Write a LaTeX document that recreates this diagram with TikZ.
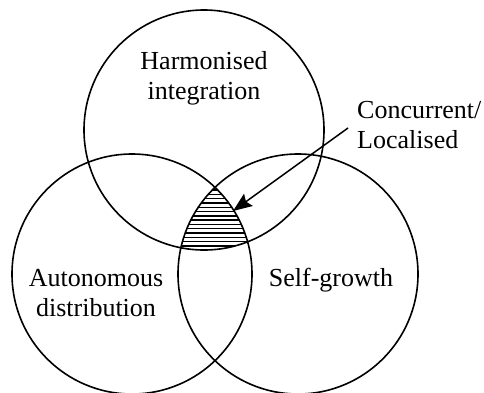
\documentclass[tikz,border=0pt]{standalone}
\usepackage{fontspec}
\setmainfont{Liberation Serif}
\usetikzlibrary{arrows.meta}
\tikzset{
  ring/.style={draw=black, line width=1.6pt},
  hatchline/.style={draw=black, line width=1.4pt},
  lbl/.style={font=\fontsize{26}{30}\selectfont, inner sep=0pt, align=center},
  pointer/.style={draw=black, line width=1.5pt, -{Stealth[length=19pt,width=15pt,inset=3pt]}}
}
\begin{document}
\begin{tikzpicture}[x=1pt,y=-1pt]
\useasboundingbox (0,0) rectangle (484,392);
\coordinate (ct) at (204,130);
\coordinate (cl) at (132,274);
\coordinate (cr) at (298,274);
% hatched triple intersection
\begin{scope}
  \clip (ct) circle[radius=120];
  \clip (cl) circle[radius=120];
  \clip (cr) circle[radius=120];
  \foreach \yy in {190,194.3,...,252} {
    \draw[hatchline] (150,\yy) -- (280,\yy);
  }
\end{scope}
\node[ring, circle, minimum size=240pt, inner sep=0pt] (top) at (ct) {};
\node[ring, circle, minimum size=240pt, inner sep=0pt] (left) at (cl) {};
\node[ring, circle, minimum size=240pt, inner sep=0pt] (right) at (cr) {};
\node[lbl, anchor=base] (harm) at (204,99) {Harmonised\\integration};
\node[lbl, anchor=base] (auto) at (96,316) {Autonomous\\distribution};
\node[lbl, anchor=base] (self) at (331,286) {Self-growth};
\node[lbl, anchor=base west, align=left] (conc) at (357,148) {Concurrent/\\Localised};
\coordinate (from) at (348,128);
\coordinate (tip) at (233,211);
\draw[pointer] (from) -- (tip);
\end{tikzpicture}
\end{document}
